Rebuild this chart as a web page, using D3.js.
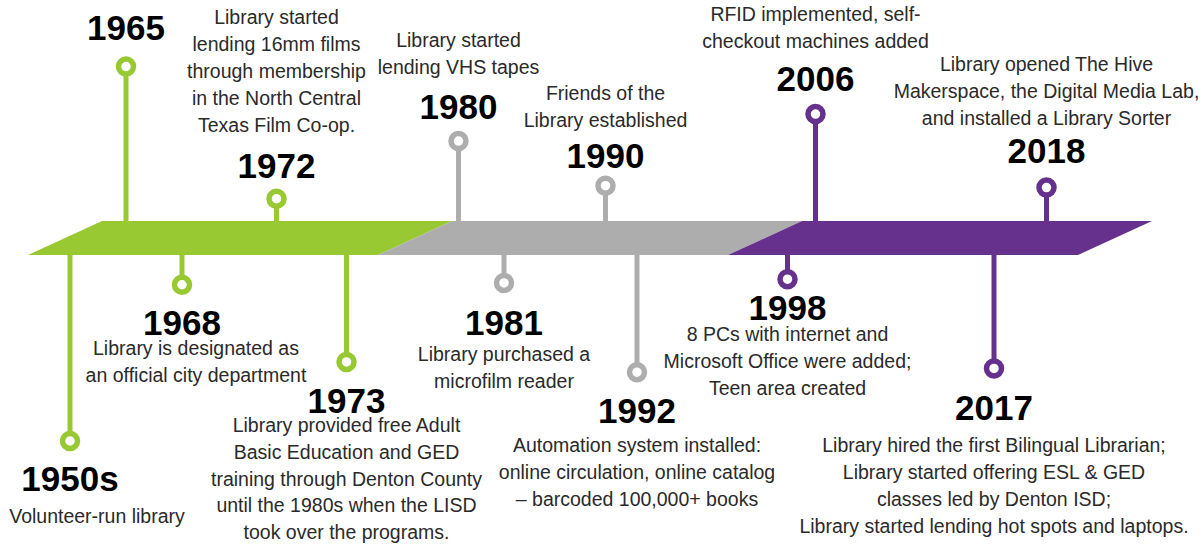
<!DOCTYPE html>
<html>
<head>
<meta charset="utf-8">
<script src="https://cdn.jsdelivr.net/npm/d3@7"></script>
<style>
  body { margin: 0; background: #fff; }
  .year { font-family: "Liberation Sans", Arial, sans-serif; font-weight: bold; font-size: 35px; fill: #000; }
  .note { font-family: "Liberation Sans", Arial, sans-serif; font-size: 19.5px; fill: #2a2a2a; }
</style>
</head>
<body>
<div id="timeline"></div>
<script>
// eras of the timeline band
var eraNames = ["1950s-1970s", "1980s-1990s", "1998-2018"];
var eraColors = ["#98c933", "#adadad", "#65318d"];

// events (track position is in era units, reach is stem length in units)
var years = ["1950s", "1965", "1968", "1972", "1973", "1980", "1981", "1990", "1992", "1998", "2006", "2017", "2018"];
var eventEra = [0, 0, 0, 0, 0, 1, 1, 1, 1, 2, 2, 2, 2];
var eventSide = ["below", "above", "below", "above", "below", "above", "below", "above", "below", "below", "above", "below", "above"];
var trackPos = [0.12, 0.28, 0.44, 0.71, 0.91, 1.23, 1.36, 1.65, 1.74, 2.17, 2.25, 2.76, 2.91];
var reach = [10, 8.3, 1.6, 1.2, 5.75, 4.3, 1.5, 1.9, 6.3, 1.3, 5.75, 6.1, 1.8];

var notes = [
  ["Volunteer-run library"],
  [],
  ["Library is designated as", "an official city department"],
  ["Library started", "lending 16mm films", "through membership", "in the North Central", "Texas Film Co-op."],
  ["Library provided free Adult", "Basic Education and GED", "training through Denton County", "until the 1980s when the LISD", "took over the programs."],
  ["Library started", "lending VHS tapes"],
  ["Library purchased a", "microfilm reader"],
  ["Friends of the", "Library established"],
  ["Automation system installed:", "online circulation, online catalog", "\u2013 barcoded 100,000+ books"],
  ["8 PCs with internet and", "Microsoft Office were added;", "Teen area created"],
  ["RFID implemented, self-", "checkout machines added"],
  ["Library hired the first Bilingual Librarian;", "Library started offering ESL & GED", "classes led by Denton ISD;", "Library started lending hot spots and laptops."],
  ["Library opened The Hive", "Makerspace, the Digital Media Lab,", "and installed a Library Sorter"]
];

var svgWidth = 1204;
var svgHeight = 544;

// layout
var bandTop = 221;
var bandBottom = 255;
var slant = 74;
var lineHeight = 26.8;
// [pin -> year baseline, year baseline -> nearest note baseline]
var labelGaps = {
  "1950s": [50, 32], "1965": [27, 0], "1968": [50, 20], "1972": [21, 46],
  "1973": [51, 19], "1980": [22, 45], "1981": [52, 26], "1990": [18, 41],
  "1992": [51, 29], "1998": [41, 21], "2006": [23, 43], "2017": [52, 32],
  "2018": [25, 38]
};
var noteNudge = { "1950s": 27, "1968": 14 };

var svg = d3.select("#timeline")
  .append("svg")
  .attr("width", svgWidth)
  .attr("height", svgHeight);

svg.append("rect")
  .attr("width", svgWidth)
  .attr("height", svgHeight)
  .attr("fill", "#fff");

// x along the band (bottom edge), one unit per era
var xScale = d3.scaleLinear()
  .domain([0, 3])
  .range([28, 1078]);

var stemScale = d3.scaleLinear()
  .domain([0, 10])
  .range([0, 186]);

var colorScale = d3.scaleOrdinal()
  .domain(eraNames)
  .range(eraColors);

var events = years.map(function(y, i) {
  return {
    year: y,
    era: eraNames[eventEra[i]],
    side: eventSide[i],
    pos: trackPos[i],
    reach: reach[i],
    note: notes[i]
  };
});

// band segments
svg.append("g").selectAll("path")
  .data(eraNames)
  .enter()
  .append("path")
  .attr("d", function(d, i) {
    var x0 = xScale(i);
    var x1 = xScale(i + 1);
    return "M" + x0 + "," + bandBottom +
      "L" + (x0 + slant) + "," + bandTop +
      "L" + (x1 + slant) + "," + bandTop +
      "L" + x1 + "," + bandBottom + "Z";
  })
  .attr("fill", d => colorScale(d));

function circleY(d) {
  return d.side === "above" ? bandTop - stemScale(d.reach) : bandBottom + stemScale(d.reach);
}

function yearY(d) {
  var gap = labelGaps[d.year][0];
  return d.side === "above" ? circleY(d) - gap : circleY(d) + gap;
}

var eventGroup = svg.append("g").selectAll("g")
  .data(events)
  .enter()
  .append("g");

// stems
eventGroup.append("line")
  .attr("x1", d => xScale(d.pos))
  .attr("x2", d => xScale(d.pos))
  .attr("y1", d => d.side === "above" ? bandTop + 1 : bandBottom - 1)
  .attr("y2", d => circleY(d))
  .attr("stroke", d => colorScale(d.era))
  .attr("stroke-width", 5);

// pins
eventGroup.append("circle")
  .attr("cx", d => xScale(d.pos))
  .attr("cy", d => circleY(d))
  .attr("r", 7.5)
  .attr("fill", "#fff")
  .attr("stroke", d => colorScale(d.era))
  .attr("stroke-width", 5.5);

// year labels
eventGroup.append("text")
  .attr("class", "year")
  .attr("text-anchor", "middle")
  .attr("x", d => xScale(d.pos))
  .attr("y", d => yearY(d))
  .text(d => d.year);

// descriptions
eventGroup.each(function(d) {
  var g = d3.select(this);
  var n = d.note.length;
  var cx = xScale(d.pos) + (noteNudge[d.year] || 0);
  var gap = labelGaps[d.year][1];
  var firstBase;
  if (d.side === "above") {
    firstBase = yearY(d) - gap - (n - 1) * lineHeight;
  } else {
    firstBase = yearY(d) + gap;
  }
  g.selectAll("text.note")
    .data(d.note)
    .enter()
    .append("text")
    .attr("class", "note")
    .attr("text-anchor", "middle")
    .attr("x", cx)
    .attr("y", (t, j) => firstBase + j * lineHeight)
    .text(t => t);
});
</script>
</body>
</html>
